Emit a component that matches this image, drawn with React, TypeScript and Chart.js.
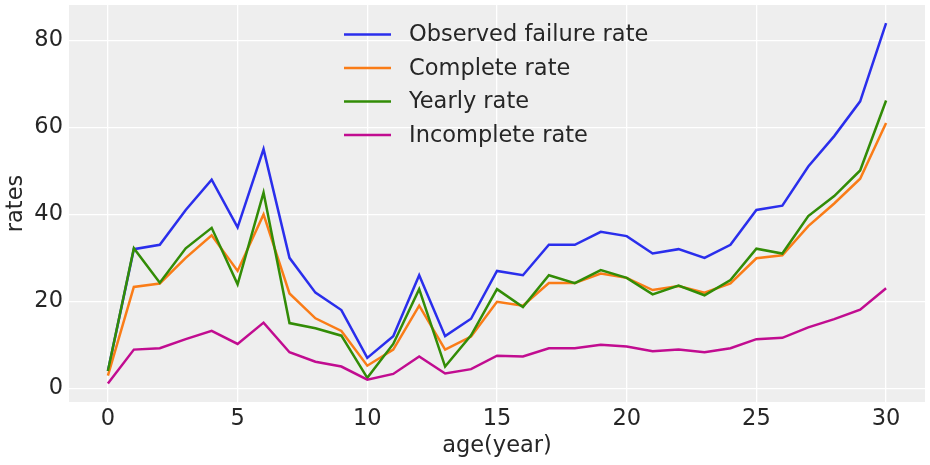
import React, { useEffect, useRef } from "react";
import { Chart, registerables } from "chart.js";

Chart.register(...registerables);

const ages = [0, 1, 2, 3, 4, 5, 6, 7, 8, 9, 10, 11, 12, 13, 14, 15, 16, 17, 18, 19, 20, 21, 22, 23, 24, 25, 26, 27, 28, 29, 30];
const observed = [4, 32, 33, 41, 48, 37, 55, 30, 22, 18, 7, 12, 26, 12, 16, 27, 26, 33, 33, 36, 35, 31, 32, 30, 33, 41, 42, 51, 58, 66, 84];
const complete = [2.9, 23.3, 24.1, 30, 35.2, 27, 40, 21.8, 16.1, 13.2, 5.2, 8.9, 19, 8.9, 11.9, 19.9, 19.0, 24.2, 24.2, 26.4, 25.4, 22.6, 23.5, 22, 24.1, 29.9, 30.6, 37.3, 42.5, 48.2, 61];
const yearly = [4, 32.2, 24.3, 32.2, 36.9, 23.9, 45, 15, 13.8, 12.1, 2.4, 10.2, 22.8, 5.0, 12.2, 22.8, 18.7, 26, 24.2, 27.2, 25.4, 21.6, 23.6, 21.4, 24.9, 32.1, 31, 39.6, 44.2, 50.1, 66.2];
const incomplete = [1.1, 8.9, 9.2, 11.3, 13.2, 10.2, 15.1, 8.3, 6.1, 5.0, 2.0, 3.3, 7.3, 3.4, 4.4, 7.5, 7.3, 9.2, 9.2, 10.0, 9.6, 8.5, 8.9, 8.3, 9.2, 11.3, 11.6, 14, 15.9, 18.1, 23.0];
const seriesNames = ["Observed failure rate", "Complete rate", "Yearly rate", "Incomplete rate"];
const seriesColors = ["#2a2eec", "#fa7c17", "#328c06", "#c10c90"];

const FONT = "'DejaVu Sans', sans-serif";
const TEXT = "#262626";
const FS = 22.5;

const bgPlugin = {
  id: "bgPlugin",
  beforeDraw(chart: any) {
    const { ctx, chartArea } = chart;
    ctx.save();
    ctx.fillStyle = "#eeeeee";
    ctx.fillRect(chartArea.left, chartArea.top, chartArea.right - chartArea.left, chartArea.bottom - chartArea.top);
    ctx.restore();
  },
};

const legendPlugin = {
  id: "innerLegend",
  afterDatasetsDraw(chart: any) {
    const { ctx, chartArea } = chart;
    const x0 = chartArea.left + 275;
    const lineLen = 47;
    const textGap = 18;
    const y0 = chartArea.top + 29.5;
    const rowH = 33.5;
    ctx.save();
    ctx.font = `${FS}px ${FONT}`;
    ctx.textBaseline = "middle";
    ctx.textAlign = "left";
    chart.data.datasets.forEach((ds: any, i: number) => {
      const y = y0 + i * rowH;
      ctx.strokeStyle = ds.borderColor;
      ctx.lineWidth = 2.5;
      ctx.beginPath();
      ctx.moveTo(x0, y);
      ctx.lineTo(x0 + lineLen, y);
      ctx.stroke();
      ctx.fillStyle = TEXT;
      ctx.fillText(ds.label, x0 + lineLen + textGap, y + 1);
    });
    ctx.restore();
  },
};

export default function App() {
  const ref = useRef<HTMLCanvasElement>(null);
  useEffect(() => {
    document.body.style.margin = "0";
    const series = [observed, complete, yearly, incomplete];
    const chart = new Chart(ref.current as HTMLCanvasElement, {
      type: "line",
      data: {
        datasets: series.map((s, i) => ({
          label: seriesNames[i],
          data: ages.map((a, j) => ({ x: a, y: s[j] })),
          borderColor: seriesColors[i],
          backgroundColor: seriesColors[i],
          borderWidth: 2.5,
          pointRadius: 0,
          tension: 0,
          fill: false,
          order: 4 - i,
        })),
      },
      options: {
        animation: false,
        responsive: true,
        maintainAspectRatio: false,
        layout: { padding: { top: 5, right: 5, left: 0, bottom: 0 } },
        plugins: { legend: { display: false }, tooltip: { enabled: false } },
        scales: {
          x: {
            type: "linear",
            min: -1.5,
            max: 31.5,
            afterFit: (s: any) => { s.height = 63; s.paddingLeft = 0; s.paddingRight = 0; },
            ticks: { stepSize: 5, includeBounds: false, font: { family: FONT, size: FS }, color: TEXT, padding: 4 },
            grid: { color: "#ffffff", lineWidth: 1.3, drawTicks: false },
            border: { display: false },
            title: { display: true, text: "age(year)", font: { family: FONT, size: FS }, color: TEXT, padding: { top: 0, bottom: 5 } },
          },
          y: {
            type: "linear",
            min: -3.15,
            max: 88.15,
            afterFit: (s: any) => { s.width = 69; s.paddingTop = 0; s.paddingBottom = 0; },
            ticks: { stepSize: 20, includeBounds: false, font: { family: FONT, size: FS }, color: TEXT, padding: 6 },
            grid: { color: "#ffffff", lineWidth: 1.3, drawTicks: false },
            border: { display: false },
            title: { display: true, text: "rates", font: { family: FONT, size: FS }, color: TEXT, padding: { top: 3, bottom: 0 } },
          },
        },
      },
      plugins: [bgPlugin, legendPlugin],
    } as any);
    return () => chart.destroy();
  }, []);
  return (
    <div style={{ width: 930, height: 465, position: "relative" }}>
      <canvas ref={ref} />
    </div>
  );
}
